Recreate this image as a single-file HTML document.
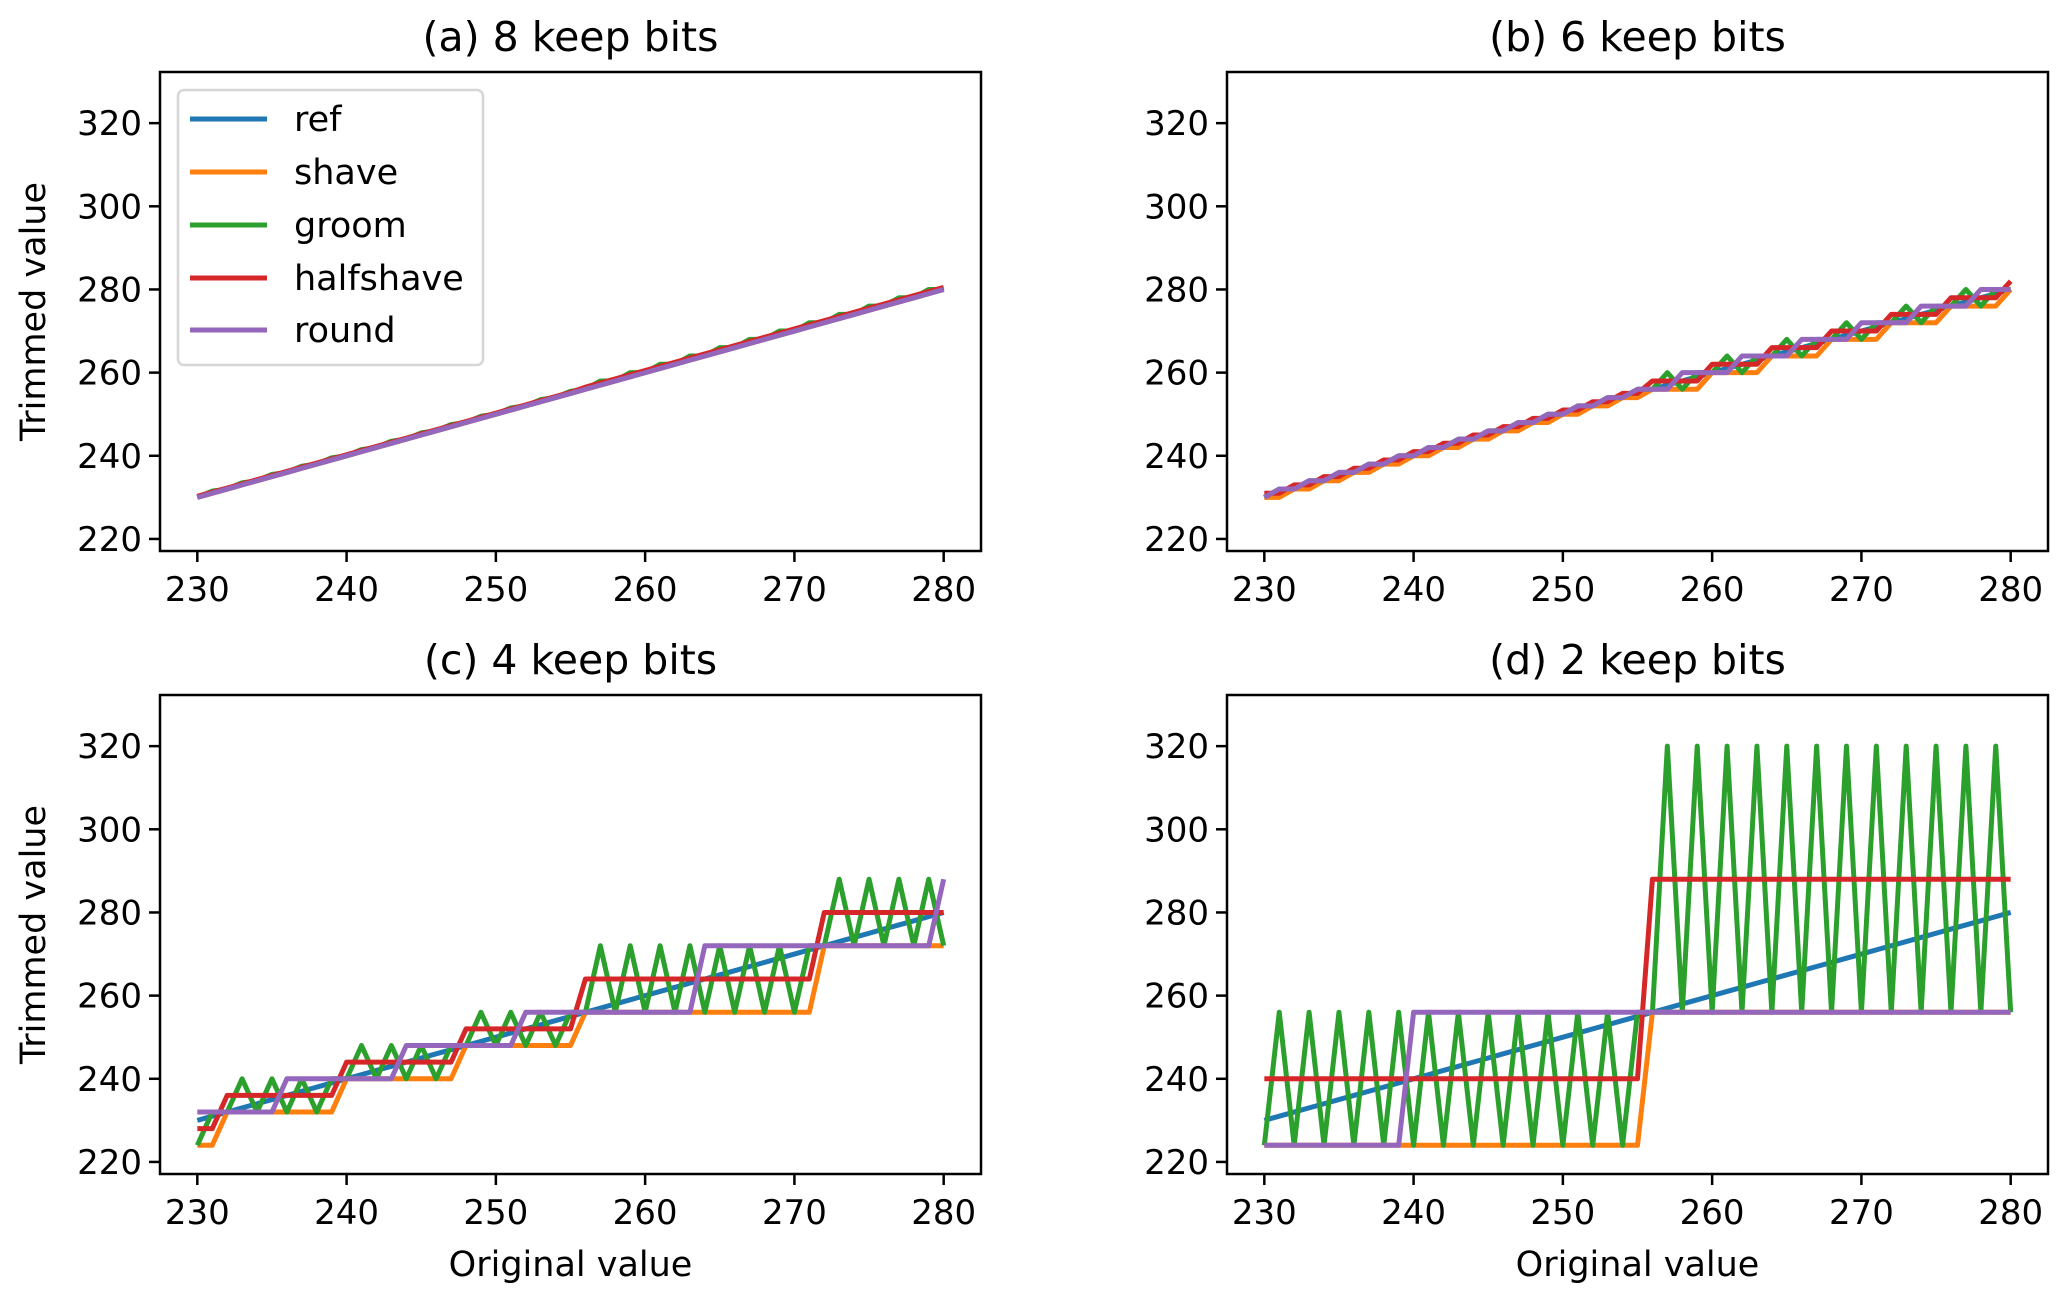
<!DOCTYPE html>
<html><head><meta charset="utf-8"><style>
html,body{margin:0;padding:0;background:#fff;}
svg{display:block;font-family:"DejaVu Sans","Liberation Sans",sans-serif;}
</style></head>
<body>
<svg id="fig" width="2067" height="1302" viewBox="0 0 2067 1302" xmlns="http://www.w3.org/2000/svg"></svg>
<script>
const xs = [230,231,232,233,234,235,236,237,238,239,240,241,242,243,244,245,246,247,248,249,250,251,252,253,254,255,256,257,258,259,260,261,262,263,264,265,266,267,268,269,270,271,272,273,274,275,276,277,278,279,280];
const xTicks = [230,240,250,260,270,280];
const yTicks = [220,240,260,280,300,320];
const seriesNames = ["ref","shave","groom","halfshave","round"];
const panelTitles = ["(a) 8 keep bits","(b) 6 keep bits","(c) 4 keep bits","(d) 2 keep bits"];

const refVals = [230,231,232,233,234,235,236,237,238,239,240,241,242,243,244,245,246,247,248,249,250,251,252,253,254,255,256,257,258,259,260,261,262,263,264,265,266,267,268,269,270,271,272,273,274,275,276,277,278,279,280];

// (a) 8 keep bits
const aShave = [230,231,232,233,234,235,236,237,238,239,240,241,242,243,244,245,246,247,248,249,250,251,252,253,254,255,256,257,258,259,260,261,262,263,264,265,266,267,268,269,270,271,272,273,274,275,276,277,278,279,280];
const aGroom = [230,231.5,232,233.5,234,235.5,236,237.5,238,239.5,240,241.5,242,243.5,244,245.5,246,247.5,248,249.5,250,251.5,252,253.5,254,255.5,256,258,258,260,260,262,262,264,264,266,266,268,268,270,270,272,272,274,274,276,276,278,278,280,280];
const aHalf = [230.25,231.25,232.25,233.25,234.25,235.25,236.25,237.25,238.25,239.25,240.25,241.25,242.25,243.25,244.25,245.25,246.25,247.25,248.25,249.25,250.25,251.25,252.25,253.25,254.25,255.25,256.5,257.5,258.5,259.5,260.5,261.5,262.5,263.5,264.5,265.5,266.5,267.5,268.5,269.5,270.5,271.5,272.5,273.5,274.5,275.5,276.5,277.5,278.5,279.5,280.5];
const aRound = [230,231,232,233,234,235,236,237,238,239,240,241,242,243,244,245,246,247,248,249,250,251,252,253,254,255,256,257,258,259,260,261,262,263,264,265,266,267,268,269,270,271,272,273,274,275,276,277,278,279,280];

// (b) 6 keep bits
const bShave = [230,230,232,232,234,234,236,236,238,238,240,240,242,242,244,244,246,246,248,248,250,250,252,252,254,254,256,256,256,256,260,260,260,260,264,264,264,264,268,268,268,268,272,272,272,272,276,276,276,276,280];
const bGroom = [230,232,232,234,234,236,236,238,238,240,240,242,242,244,244,246,246,248,248,250,250,252,252,254,254,256,256,260,256,260,260,264,260,264,264,268,264,268,268,272,268,272,272,276,272,276,276,280,276,280,280];
const bHalf = [231,231,233,233,235,235,237,237,239,239,241,241,243,243,245,245,247,247,249,249,251,251,253,253,255,255,258,258,258,258,262,262,262,262,266,266,266,266,270,270,270,270,274,274,274,274,278,278,278,278,282];
const bRound = [230,232,232,234,234,236,236,238,238,240,240,242,242,244,244,246,246,248,248,250,250,252,252,254,254,256,256,256,260,260,260,260,264,264,264,264,268,268,268,268,272,272,272,272,276,276,276,276,280,280,280];

// (c) 4 keep bits
const cShave = [224,224,232,232,232,232,232,232,232,232,240,240,240,240,240,240,240,240,248,248,248,248,248,248,248,248,256,256,256,256,256,256,256,256,256,256,256,256,256,256,256,256,272,272,272,272,272,272,272,272,272];
const cGroom = [224,232,232,240,232,240,232,240,232,240,240,248,240,248,240,248,240,248,248,256,248,256,248,256,248,256,256,272,256,272,256,272,256,272,256,272,256,272,256,272,256,272,272,288,272,288,272,288,272,288,272];
const cHalf = [228,228,236,236,236,236,236,236,236,236,244,244,244,244,244,244,244,244,252,252,252,252,252,252,252,252,264,264,264,264,264,264,264,264,264,264,264,264,264,264,264,264,280,280,280,280,280,280,280,280,280];
const cRound = [232,232,232,232,232,232,240,240,240,240,240,240,240,240,248,248,248,248,248,248,248,248,256,256,256,256,256,256,256,256,256,256,256,256,272,272,272,272,272,272,272,272,272,272,272,272,272,272,272,272,288];

// (d) 2 keep bits
const dShave = [224,224,224,224,224,224,224,224,224,224,224,224,224,224,224,224,224,224,224,224,224,224,224,224,224,224,256,256,256,256,256,256,256,256,256,256,256,256,256,256,256,256,256,256,256,256,256,256,256,256,256];
const dGroom = [224,256,224,256,224,256,224,256,224,256,224,256,224,256,224,256,224,256,224,256,224,256,224,256,224,256,256,320,256,320,256,320,256,320,256,320,256,320,256,320,256,320,256,320,256,320,256,320,256,320,256];
const dHalf = [240,240,240,240,240,240,240,240,240,240,240,240,240,240,240,240,240,240,240,240,240,240,240,240,240,240,288,288,288,288,288,288,288,288,288,288,288,288,288,288,288,288,288,288,288,288,288,288,288,288,288];
const dRound = [224,224,224,224,224,224,224,224,224,224,256,256,256,256,256,256,256,256,256,256,256,256,256,256,256,256,256,256,256,256,256,256,256,256,256,256,256,256,256,256,256,256,256,256,256,256,256,256,256,256,256];

const panelSeries = [
  [refVals,aShave,aGroom,aHalf,aRound],
  [refVals,bShave,bGroom,bHalf,bRound],
  [refVals,cShave,cGroom,cHalf,cRound],
  [refVals,dShave,dGroom,dHalf,dRound]
];

const colors = ["#1f77b4","#ff7f0e","#2ca02c","#d62728","#9467bd"];
const NS = "http://www.w3.org/2000/svg";
const svg = document.getElementById("fig");
const W = 821, H = 479;
const origins = [[160,72],[1227,72],[160,695],[1227,695]];
const XMIN = 227.5, XMAX = 282.5, YMIN = 217.1, YMAX = 332.3;

function mk(tag, attrs, parent){
  const e = document.createElementNS(NS, tag);
  for (const k in attrs) e.setAttribute(k, attrs[k]);
  (parent||svg).appendChild(e);
  return e;
}

panelSeries.forEach((series, p) => {
  const [ox, oy] = origins[p];
  const sx = v => ox + (v - XMIN) / (XMAX - XMIN) * W;
  const sy = v => oy + H - (v - YMIN) / (YMAX - YMIN) * H;
  const g = mk("g", {});
  
  

  const clipId = "clip" + p;
  const cp = mk("clipPath", {id: clipId}, g);
  mk("rect", {x: ox, y: oy, width: W, height: H}, cp);

  series.forEach((vals, s) => {
    const pts = xs.map((x, i) => sx(x).toFixed(2) + "," + sy(vals[i]).toFixed(2)).join(" ");
    const pl = mk("polyline", {points: pts, fill: "none", stroke: colors[s], "stroke-width": 5, "stroke-linejoin": "round", "clip-path": "url(#" + clipId + ")"}, g);
    
    
  });

  const frame = mk("rect", {x: ox, y: oy, width: W, height: H, fill: "none", stroke: "#000", "stroke-width": 2.5}, g);
  
  

  xTicks.forEach(t => {
    const x = sx(t);
    mk("line", {x1: x, y1: oy + H, x2: x, y2: oy + H + 11, stroke: "#000", "stroke-width": 2.5}, g);
    const tx = mk("text", {x: x, y: oy + H + 50, "font-size": 34, "text-anchor": "middle", fill: "#000"}, g);
    tx.textContent = t;
    
    
  });
  yTicks.forEach(t => {
    const y = sy(t);
    mk("line", {x1: ox - 11, y1: y, x2: ox, y2: y, stroke: "#000", "stroke-width": 2.5}, g);
    const ty = mk("text", {x: ox - 18, y: y + 12, "font-size": 34, "text-anchor": "end", fill: "#000"}, g);
    ty.textContent = t;
    
    
  });

  const title = mk("text", {x: ox + W / 2, y: oy - 21, "font-size": 41, "text-anchor": "middle", fill: "#000"}, g);
  title.textContent = panelTitles[p];
  
  

  if (p % 2 === 0) {
    const cy = oy + H / 2;
    const yl = mk("text", {x: 0, y: 0, "font-size": 35, "text-anchor": "middle", fill: "#000", transform: "translate(45," + cy + ") rotate(-90)"}, g);
    yl.textContent = "Trimmed value";
    
    
  }
  if (p >= 2) {
    const xl = mk("text", {x: ox + W / 2, y: 1276, "font-size": 35, "text-anchor": "middle", fill: "#000"}, g);
    xl.textContent = "Original value";
    
    
  }
});

// legend in panel (a)
const lg = mk("g", {});


mk("rect", {x: 178, y: 90, width: 305, height: 275, rx: 6, fill: "#fff", "fill-opacity": 0.8, stroke: "#d6d6d6", "stroke-width": 2.5}, lg);
const legendY = [119, 172, 225, 278, 330];
seriesNames.forEach((n, i) => {
  const entry = mk("g", {}, lg);
  
  
  mk("line", {x1: 190, y1: legendY[i], x2: 267, y2: legendY[i], stroke: colors[i], "stroke-width": 5}, entry);
  const t = mk("text", {x: 294, y: legendY[i] + 12, "font-size": 35, fill: "#000"}, entry);
  t.textContent = n;
});
</script>
</body></html>
